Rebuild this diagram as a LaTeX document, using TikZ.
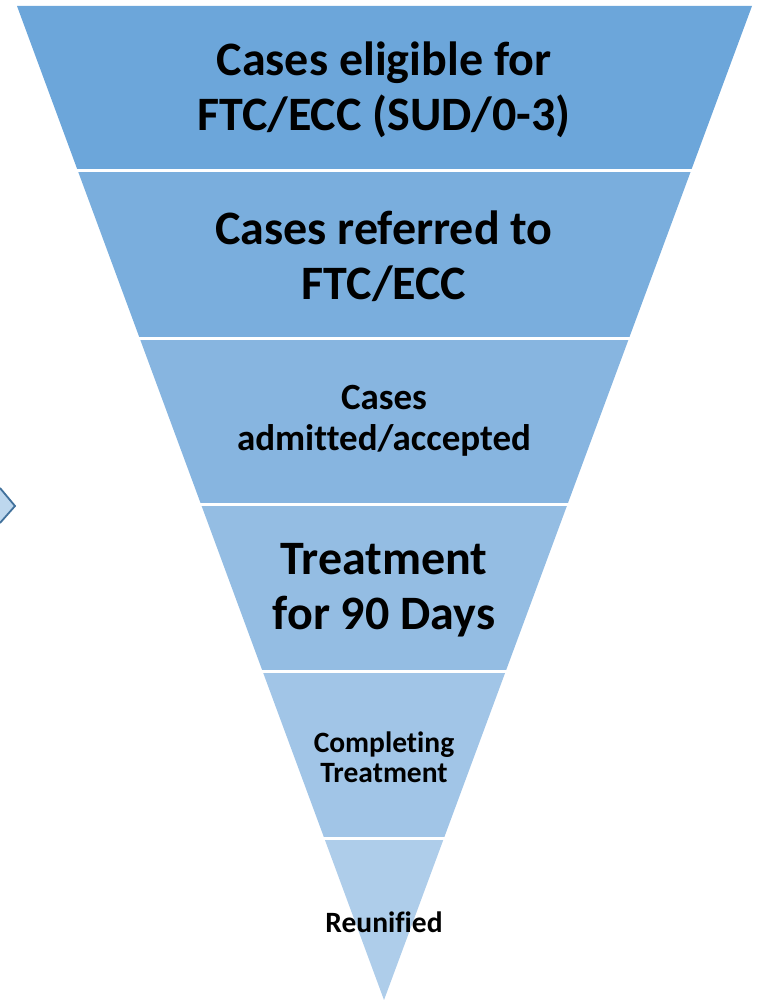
\documentclass[tikz,border=0pt]{standalone}
\usepackage{fontspec}
\setmainfont{Carlito}[Ligatures=NoCommon]

\definecolor{bandA}{HTML}{6CA6DA}
\definecolor{bandB}{HTML}{7AAEDD}
\definecolor{bandC}{HTML}{87B5E0}
\definecolor{bandD}{HTML}{94BDE3}
\definecolor{bandE}{HTML}{A1C5E7}
\definecolor{bandF}{HTML}{AECDEA}
\definecolor{arrowfill}{HTML}{BDD7EE}
\definecolor{arrowline}{HTML}{41719C}

\begin{document}
\begin{tikzpicture}[x=1pt,y=-1pt,
                    gap/.style={draw=white,line width=3pt},
                    big label/.style={font=\bfseries\fontsize{48}{55}\selectfont,align=center,inner sep=0pt},
                    mid label/.style={font=\bfseries\fontsize{37}{41}\selectfont,align=center,inner sep=0pt},
                    small label/.style={font=\bfseries\fontsize{29.5}{30}\selectfont,align=center,inner sep=0pt}]

  \useasboundingbox (0,0) rectangle (759,1000);

  % funnel bands, top to bottom
  \fill[bandA] (17,6) -- (752,6) -- (690.9,171) -- (77.9,171) -- cycle;
  \fill[bandB] (77.9,171) -- (690.9,171) -- (629.1,338) -- (139.6,338) -- cycle;
  \fill[bandC] (139.6,338) -- (629.1,338) -- (567.6,504) -- (200.9,504) -- cycle;
  \fill[bandD] (200.9,504) -- (567.6,504) -- (505.8,671) -- (262.5,671) -- cycle;
  \fill[bandE] (262.5,671) -- (505.8,671) -- (444.0,838) -- (324.2,838) -- cycle;
  \fill[bandF] (324.2,838) -- (444.0,838) -- (384,1000) -- cycle;

  % white gaps between bands
  \draw[gap] (76,171) -- (693,171);
  \draw[gap] (138,338) -- (631,338);
  \draw[gap] (199,504) -- (570,504);
  \draw[gap] (261,671) -- (508,671);
  \draw[gap] (322,838) -- (446,838);

  % cut-off arrow head on the left
  \fill[arrowfill] (0,488) -- (15,506) -- (0,523) -- cycle;
  \draw[arrowline,line width=1.8pt,line join=miter] (0,488) -- (15,506) -- (0,523);

  \node[big label] (eligible) at (384,90) {Cases eligible for\\FTC/ECC (SUD/0-3)};
  \node[big label] (referred) at (384,256) {Cases referred to\\FTC/ECC};
  \node[mid label] (admitted) at (384,421) {Cases\\admitted/accepted};
  \node[big label] (treatment) at (384,590) {Treatment\\for 90 Days};
  \node[small label] (completing) at (384,757) {Completing\\Treatment};
  \node[small label] (reunified) at (384,922) {Reunified};

\end{tikzpicture}
\end{document}
